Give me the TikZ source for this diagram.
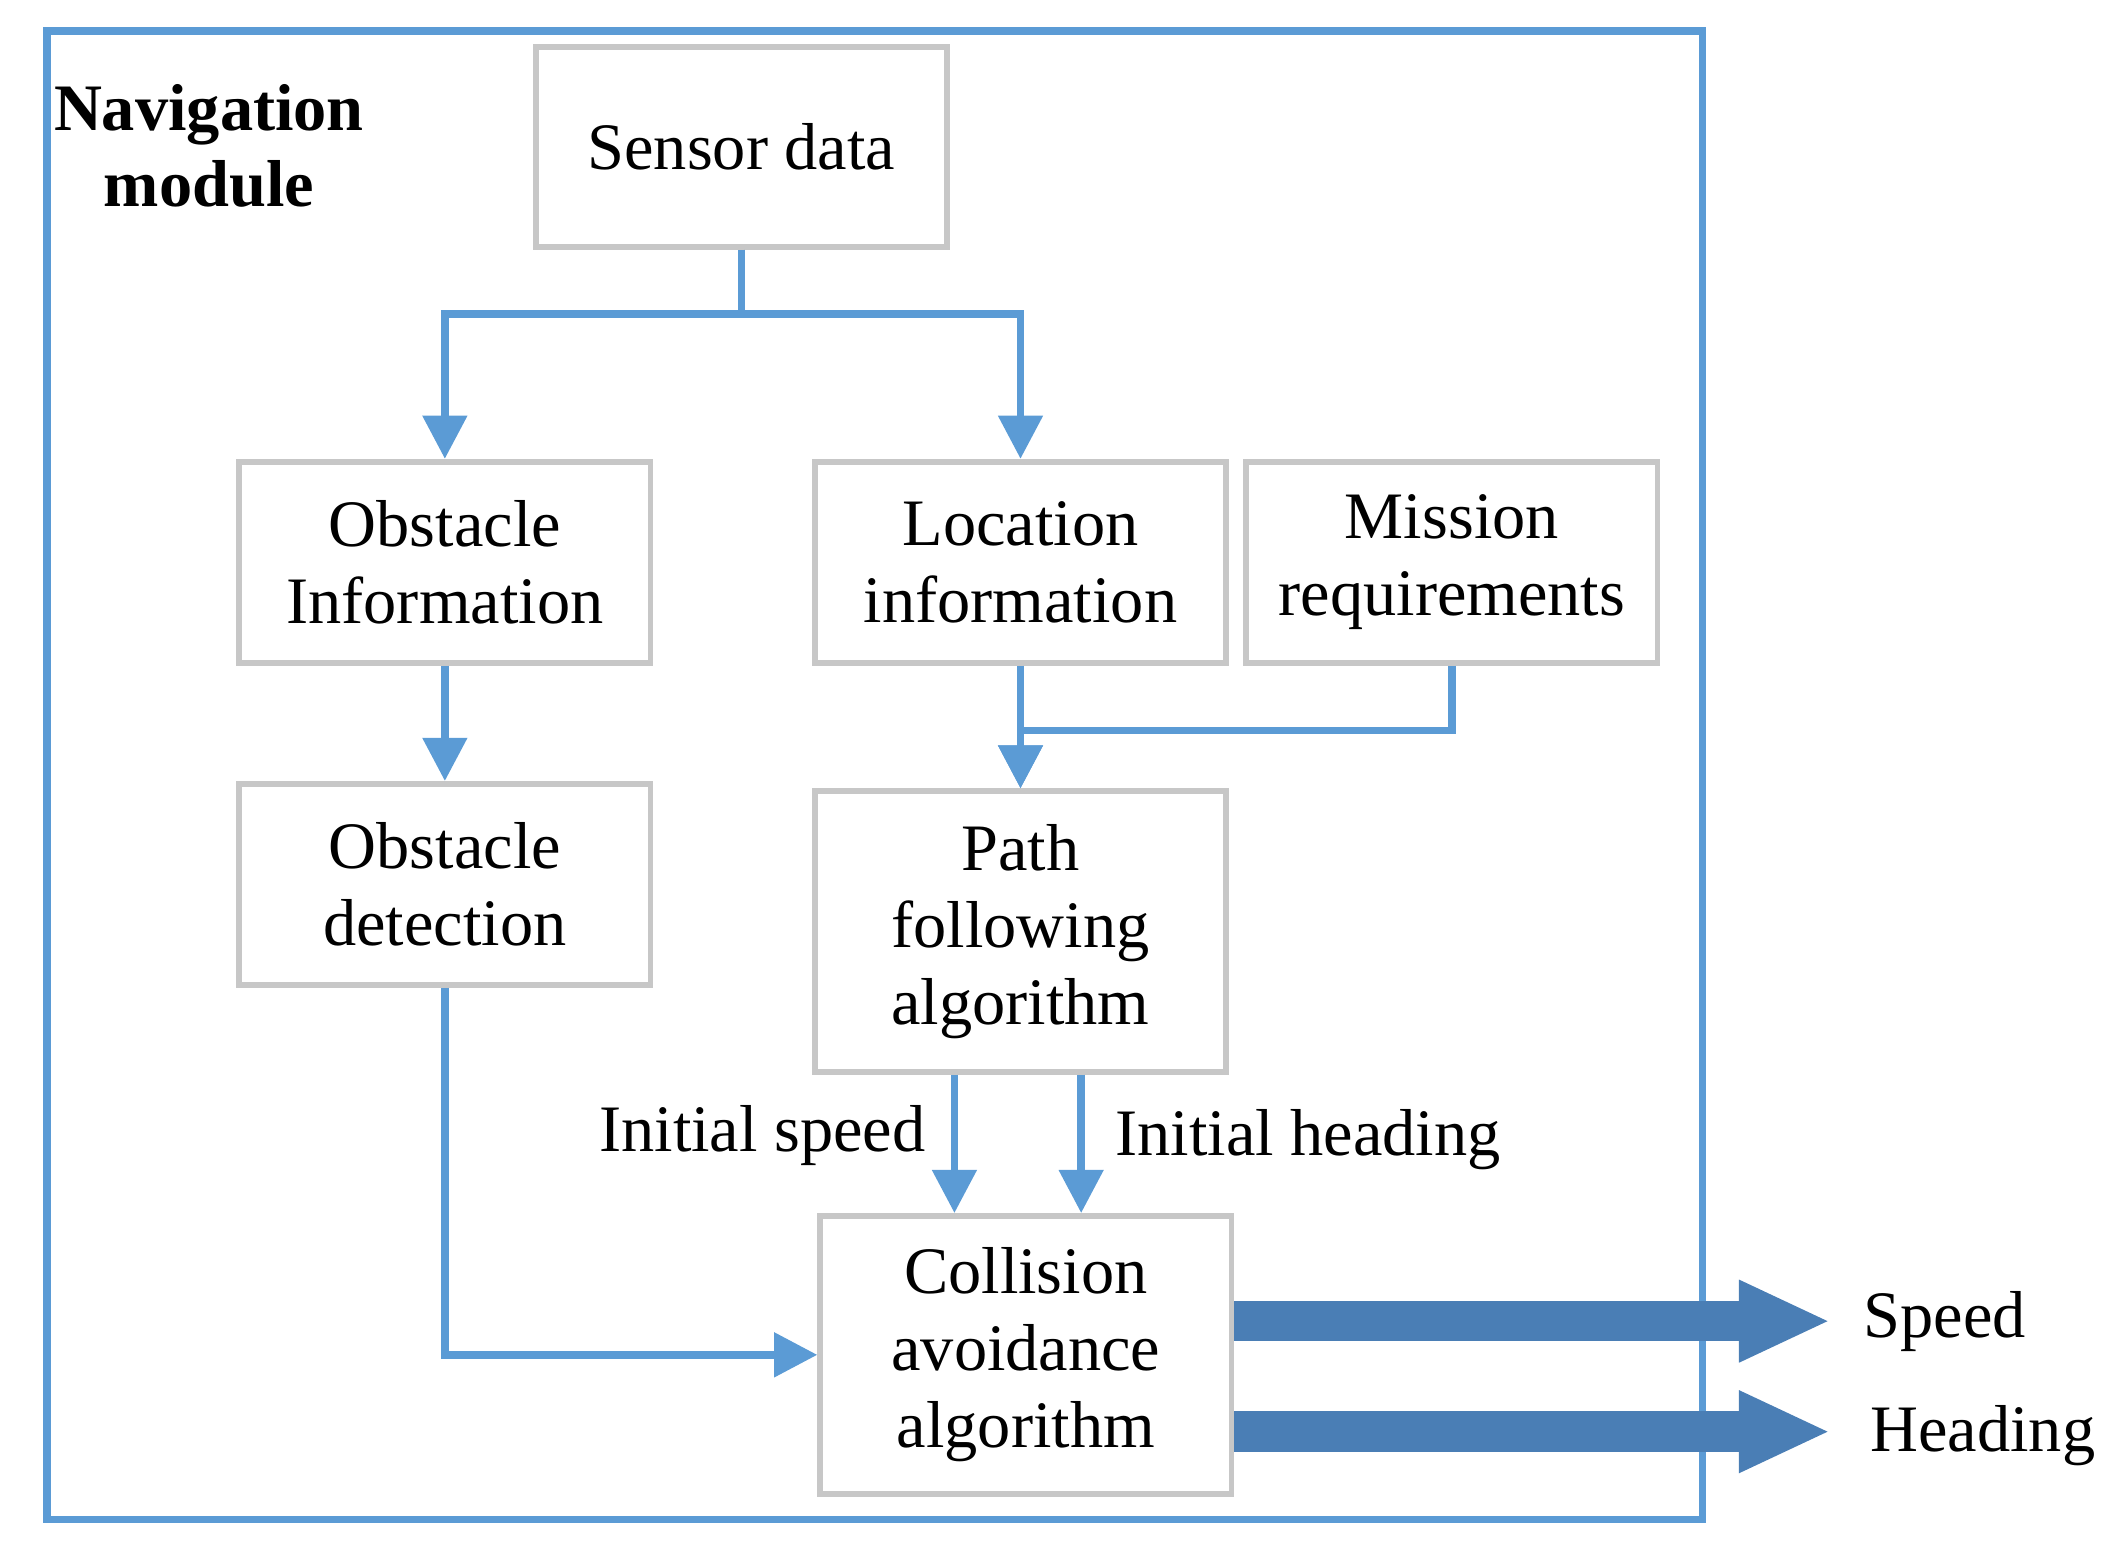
\documentclass[tikz,border=0pt]{standalone}
\usepackage{fontspec}
\setmainfont{Liberation Serif}
\usetikzlibrary{arrows.meta,calc}
\definecolor{lineblue}{HTML}{5B9BD5}
\definecolor{fatblue}{HTML}{4A7EB5}
\begin{document}
\begin{tikzpicture}[x=0.01cm,y=-0.01cm,
    box/.style={draw=black!22,line width=1.2pt,fill=white,minimum width=3.05cm,align=center,
      font=\fontsize{14}{16.2}\selectfont},
    flow/.style={draw=lineblue,line width=1.6pt,-{Triangle[width=0.32cm,length=0.32cm]}},
    fat/.style={draw=fatblue,line width=0.3cm,-{Triangle[width=0.56cm,length=0.68cm]}},
    lbl/.style={font=\fontsize{14}{16}\selectfont}]
  \useasboundingbox (0,0) rectangle (1560,1144);
  \draw[lineblue,line width=1.6pt] (35,23) rectangle (1263,1127);
  \node[align=center,font=\fontsize{14}{16}\selectfont\bfseries] (title) at (155,108) {Navigation\\module};
  % boxes
  \foreach \N/\X/\Y/\H/\T in {sen/550/109/1.48/Sensor data,
      obi/330/417/1.49/Obstacle\\Information,
      loc/757/417/1.49/Location\\information,
      mis/1077/417/1.49/Mission\\requirements\vphantom{I},
      obd/330/656/1.49/Obstacle\\detection,
      pat/757/691/2.08/Path\\following\\algorithm,
      col/761/1005/2.06/Collision\\avoidance\\algorithm}
    {\node[box,minimum height=\H cm] (\N) at (\X,\Y) {\T};}
  % connectors
  \draw[flow] (sen.south) |- (440,233) -| (obi.north);
  \draw[flow] (sen.south) |- (650,233) -| (loc.north);
  \draw[flow] (obi) -- (obd);
  \draw[flow] (loc) -- (pat);
  \draw[flow] (mis.south) |- (757,542) -- (pat.north);
  \draw[flow] (obd.south) |- (col.west);
  \draw[flow] (pat.south -| 708,0) -- (col.north -| 708,0);
  \draw[flow] (pat.south -| 802,0) -- (col.north -| 802,0);
  \node[lbl,anchor=east] (ispd) at (699,842) {Initial speed};
  \node[lbl,anchor=west] (ihdg) at (815,845) {Initial heading};
  % outputs
  \node[lbl,anchor=west] (spd) at (1370,980) {Speed};
  \node[lbl,anchor=west] (hdg) at (1375,1065) {Heading};
  \draw[fat] (col.east |- spd) -- (1358,980);
  \draw[fat] (col.east |- 0,1062) -- (1358,1062);
\end{tikzpicture}
\end{document}
